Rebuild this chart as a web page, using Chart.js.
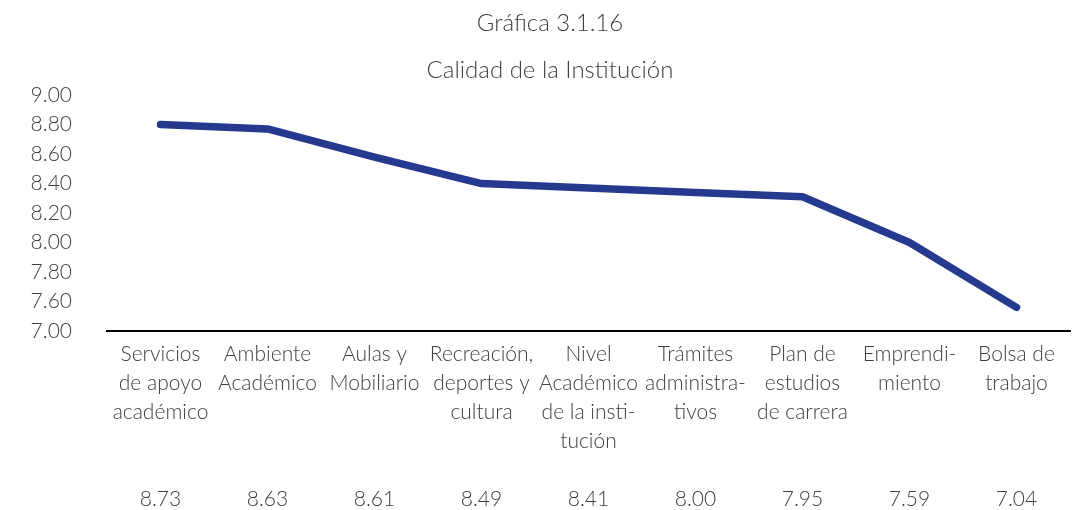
<!DOCTYPE html>
<html>
<head>
<meta charset="utf-8">
<script src="https://cdn.jsdelivr.net/npm/chart.js@4"></script>
<style>
  html, body { margin: 0; padding: 0; background: #fff; }
  #wrap { width: 1083px; height: 510px; }
</style>
</head>
<body>
<div id="wrap"><canvas id="calidadChart"></canvas></div>
<script>
const categories = [
    ['Servicios', 'de apoyo', 'académico'],
    ['Ambiente', 'Académico'],
    ['Aulas y', 'Mobiliario'],
    ['Recreación,', 'deportes y', 'cultura'],
    ['Nivel', 'Académico', 'de la insti-', 'tución'],
    ['Trámites', 'administra-', 'tivos'],
    ['Plan de', 'estudios', 'de carrera'],
    ['Emprendi-', 'miento'],
    ['Bolsa de', 'trabajo']
];
const lineValues = [8.80, 8.77, 8.58, 8.40, 8.37, 8.34, 8.31, 8.00, 7.56];
const tableValues = ['8.73', '8.63', '8.61', '8.49', '8.41', '8.00', '7.95', '7.59', '7.04'];
const yTickLabels = ['7.00', '7.60', '7.80', '8.00', '8.20', '8.40', '8.60', '8.80', '9.00'];

document.addEventListener('DOMContentLoaded', function () {
    // category text, blank lines, then the value row at the bottom
    const labels = categories.map(function (lines, i) {
        const out = lines.slice();
        while (out.length < 5) out.push('');
        out.push(tableValues[i]);
        return out;
    });

    const ctx = document.getElementById('calidadChart').getContext('2d');
    new Chart(ctx, {
        type: 'line',
        data: {
            labels: labels,
            datasets: [{
                label: 'Calidad',
                data: lineValues,
                borderColor: '#253a8e',
                borderWidth: 7.5,
                borderCapStyle: 'round',
                borderJoinStyle: 'round',
                pointRadius: 0,
                tension: 0,
                fill: false
            }]
        },
        options: {
            responsive: true,
            maintainAspectRatio: false,
            animation: false,
            layout: { padding: { left: 30, right: 13, top: 0, bottom: -13 } },
            plugins: {
                legend: { display: false },
                tooltip: { enabled: false },
                title: {
                    display: true,
                    text: ['Gráfica 3.1.16', 'Calidad de la Institución'],
                    color: '#404040',
                    font: { family: 'Lato', size: 24, weight: '300', lineHeight: 1.96 },
                    padding: { top: 0, bottom: 1 }
                }
            },
            scales: {
                x: {
                    offset: true,
                    grid: { display: false, drawTicks: false },
                    border: { display: true, color: '#000', width: 2 },
                    ticks: {
                        autoSkip: false,
                        maxRotation: 0,
                        padding: 9,
                        color: '#404040',
                        font: { family: 'Lato', size: 21, weight: '300', lineHeight: 1.381 }
                    },
                    afterFit: function (scale) {
                        scale.paddingLeft = 0;
                        scale.paddingRight = 0;
                    }
                },
                y: {
                    min: 7.4,
                    max: 9.0,
                    grid: { display: false, drawTicks: false },
                    border: { display: false },
                    ticks: {
                        stepSize: 0.2,
                        autoSkip: false,
                        padding: 35,
                        color: '#404040',
                        font: { family: 'Lato', size: 21, weight: '300' },
                        callback: function (value, index) {
                            return yTickLabels[index];
                        }
                    },
                    afterFit: function (scale) {
                        scale.width = 77;
                        scale.paddingTop = 0;
                        scale.paddingBottom = 0;
                    }
                }
            }
        }
    });
});
</script>
</body>
</html>
